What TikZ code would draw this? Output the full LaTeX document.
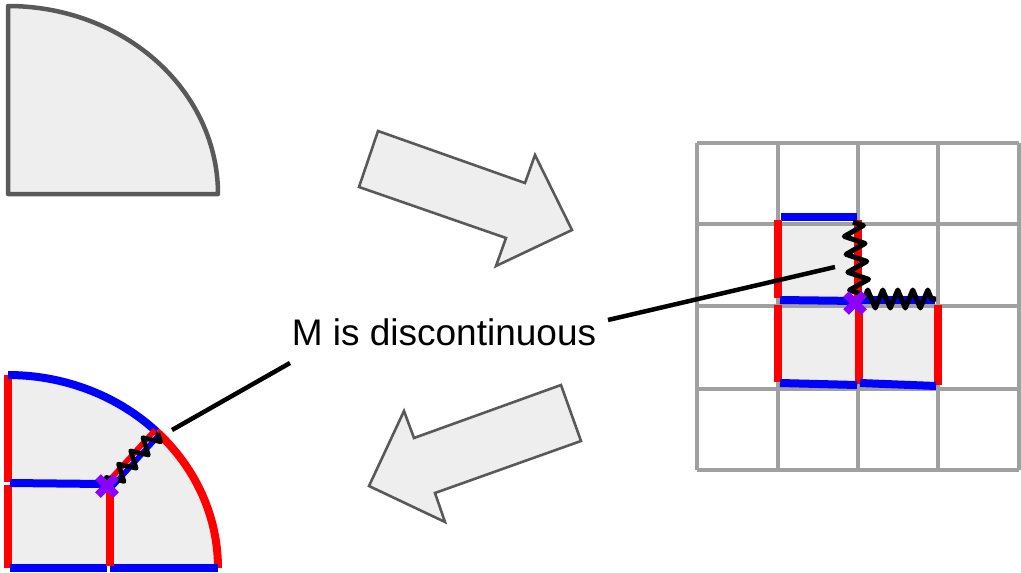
\documentclass[tikz,border=0pt]{standalone}
\usepackage{fontspec}
\setmainfont{Liberation Sans}
\usetikzlibrary{decorations.pathmorphing}
\definecolor{cellfill}{HTML}{EEEEEE}
\definecolor{outline}{HTML}{595959}
\definecolor{gridgray}{HTML}{A0A0A0}
\definecolor{edgeblue}{HTML}{0000FF}
\definecolor{edgered}{HTML}{FF0000}
\definecolor{xviolet}{HTML}{8B00FF}
\tikzset{
  region/.style={fill=cellfill,draw=outline,line width=4.5pt,line join=round},
  bigarrow/.style={fill=cellfill,draw=outline,line width=2.6pt,line join=miter},
  gridline/.style={draw=gridgray,line width=4pt},
  redge/.style={draw=edgered,line width=8pt},
  bedge/.style={draw=edgeblue,line width=8pt},
  spring/.style={draw=black,line width=5pt,line join=round,decorate,
    decoration={zigzag,segment length=18pt,amplitude=10pt}},
  callout/.style={draw=black,line width=4.5pt},
  xcross/.style={draw=xviolet,line width=8pt},
}
\begin{document}
\begin{tikzpicture}[x=1pt,y=-1pt]
\useasboundingbox (0,0) rectangle (1021,573);

% plain quarter disc
\path[region] (8,194) -- (8,6)
  -- plot[domain=90:0,samples=60,smooth] ({8+210*cos(\x)},{194-188*sin(\x)}) -- cycle;

% transformation arrows
\path[bigarrow] (378,131) -- (525,183) -- (535,155) -- (572,230)
  -- (496,266) -- (506,238) -- (359,187) -- cycle;
\path[bigarrow] (561,385) -- (581,441) -- (435,493) -- (445,522)
  -- (369,486) -- (404,411) -- (414,438) -- cycle;

% grid with the three shaded cells
\fill[cellfill] (778,224) rectangle (858,389);
\fill[cellfill] (858,306) rectangle (938,389);
\foreach \gx in {697,778,858,938,1019}
  \draw[gridline] (\gx,143) -- (\gx,470);
\foreach \gy in {143,224,306,389,470}
  \draw[gridline] (697,\gy) -- (1019,\gy);

% coloured cell edges
\draw[bedge] (781,217) -- (857,217);
\draw[redge] (778,220) -- (778,298);
\draw[redge] (858,220) -- (858,298);
\draw[bedge] (780,300) -- (857,301);
\draw[bedge] (860,300) -- (935,300);
\draw[redge] (778,305) -- (778,382);
\draw[redge] (859,305) -- (859,384);
\draw[redge] (938,305) -- (938,385);
\draw[bedge] (780,383) -- (857,385);
\draw[bedge] (860,383) -- (936,386);

% discontinuity on the grid
\draw[spring] (853,222) -- (860,295);
\draw[spring,decoration={zigzag,segment length=15pt,amplitude=9pt}] (864,299) -- (936,299);
\draw[xcross] (855,303) +(-9,-9) -- +(9,9) +(-9,9) -- +(9,-9);

% mapped quarter disc
\fill[cellfill] (8,568) -- (8,375)
  -- plot[domain=90:0,samples=60,smooth] ({8+210*cos(\x)},{568-193*sin(\x)}) -- cycle;
\draw[redge] (8,375) -- (8,482);
\draw[redge] (8,485) -- (8,568);
\draw[bedge] plot[domain=90:45,samples=40,smooth] ({8+210*cos(\x)},{568-193*sin(\x)});
\draw[redge] plot[domain=45:0,samples=40,smooth] ({8+210*cos(\x)},{568-193*sin(\x)});
\draw[bedge] (10,568) -- (107,568);
\draw[bedge] (110,568) -- (218,568);
\draw[bedge] (10,483) -- (104,484);
\draw[redge] (110,490) -- (110,566);
\draw[redge,line width=5.5pt] (107,483) -- (155,430);
\draw[bedge,line width=5.5pt] (111,488) -- (159,435);
\draw[spring,decoration={zigzag,segment length=18pt,amplitude=8pt},line width=4.5pt] (109,486) -- (158,433);
\draw[xcross] (107,486) +(-9,-9) -- +(9,9) +(-9,9) -- +(9,-9);

% label and its leader lines
\node[font=\fontsize{37}{44}\selectfont,anchor=base,inner sep=0pt] (lbl) at (444,345) {M is discontinuous};
\coordinate (gridend) at (835,267);
\coordinate (discend) at (172,430);
\draw[callout] (608,320) -- (gridend);
\draw[callout] (290,363) -- (discend);
\end{tikzpicture}
\end{document}
